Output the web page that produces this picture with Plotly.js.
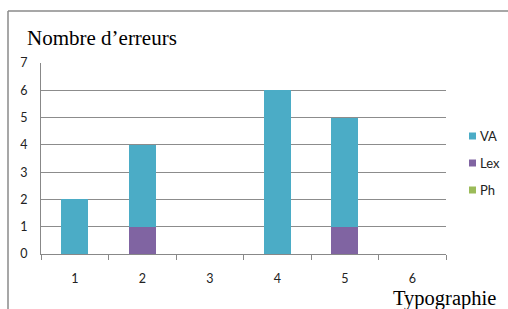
<!DOCTYPE html>
<html><head><meta charset="utf-8">
<script src="https://cdn.plot.ly/plotly-3.0.1.min.js"></script>
<style>html,body{margin:0;padding:0;background:#fff;}#c{width:508px;height:309px;}</style>
</head><body><div id="c"></div>
<script>
const categories = ['1','2','3','4','5','6'];
const seriesNames = ['Ph','Lex','VA'];
const legendOrder = ['VA','Lex','Ph'];
const phValues  = [0,0,0,0,0,0];
const lexValues = [0,1,0,0,1,0];
const vaValues  = [2,3,0,6,4,0];
const yTicks = [0,1,2,3,4,5,6,7];
const colors = {VA:'#4BACC6', Lex:'#8064A2', Ph:'#9BBB59'};
const valuesByName = {Ph:phValues, Lex:lexValues, VA:vaValues};

const traces = seriesNames.map(n => ({
  type:'bar', name:n, x:categories, y:valuesByName[n],
  marker:{color:colors[n], line:{width:0}}, hoverinfo:'none'
}));

const L=41, R=446, T=63, B=254, W=508, H=309;
const px = x => (x-L)/(R-L);
const py = y => (B-y)/(B-T);

// legend built from the series names and colours
const legTop = 136, legStep = 27, sq = 7, sqLeft = 469;
const legShapes = legendOrder.map((n,i) => ({
  type:'rect', xref:'paper', yref:'paper',
  x0:px(sqLeft), x1:px(sqLeft+sq), y0:py(legTop+i*legStep-sq/2), y1:py(legTop+i*legStep+sq/2),
  fillcolor:colors[n], line:{width:0}
}));
const legTexts = legendOrder.map((n,i) => ({
  text:n, xref:'paper', yref:'paper', x:px(sqLeft+sq+2), y:py(legTop+i*legStep), xanchor:'left', yanchor:'middle',
  showarrow:false, font:{family:'Lato, sans-serif', size:13, color:'#222'}
}));

const layout = {
  width:W, height:H, margin:{l:L, r:W-R, t:T, b:H-B, pad:0, autoexpand:false},
  paper_bgcolor:'#fff', plot_bgcolor:'#fff',
  barmode:'stack', bargap:0.6, showlegend:false,
  font:{family:'Lato, Open Sans, sans-serif', size:12, color:'#222'},
  xaxis:{type:'category', showgrid:false, showline:true, linecolor:'#888', linewidth:1,
    ticks:'outside', tickson:'boundaries', ticklen:5, tickcolor:'#888',
    tickfont:{family:'Lato, sans-serif', size:12.5, color:'#222'}, ticklabelstandoff:13, zeroline:false},
  yaxis:{range:[0,7], tickvals:yTicks, showgrid:true, gridcolor:'#8c8c8c', gridwidth:1,
    showline:true, linecolor:'#888', linewidth:1, ticks:'', zeroline:false,
    tickfont:{family:'Lato, sans-serif', size:12.5, color:'#222'}, ticklabelstandoff:10},
  shapes:[
    {type:'line', xref:'paper', yref:'paper', x0:px(8), x1:px(508), y0:py(11), y1:py(11), line:{color:'#8a8a8a', width:1.5}},
    {type:'line', xref:'paper', yref:'paper', x0:px(8), x1:px(8), y0:py(11), y1:py(309), line:{color:'#8a8a8a', width:1.5}}
  ].concat(legShapes),
  annotations:[
    {text:'Nombre d’erreurs', xref:'paper', yref:'paper', x:px(25), y:py(38), xanchor:'left', yanchor:'middle',
     showarrow:false, font:{family:'Liberation Serif, serif', size:21, color:'#000'}},
    {text:'Typographie', xref:'paper', yref:'paper', x:px(497), y:py(298), xanchor:'right', yanchor:'middle',
     showarrow:false, borderpad:0, font:{family:'Liberation Serif, serif', size:20.5, color:'#000'}}
  ].concat(legTexts)
};
Plotly.newPlot('c', traces, layout, {staticPlot:true, displayModeBar:false});
</script></body></html>
